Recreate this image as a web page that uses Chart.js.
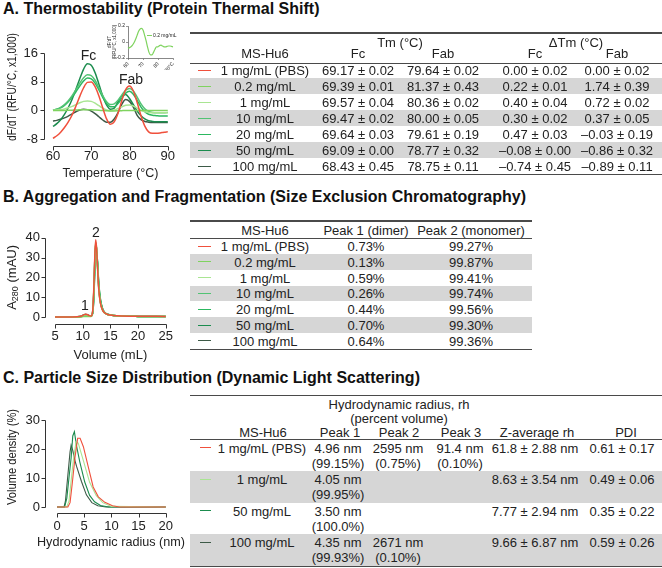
<!DOCTYPE html>
<html>
<head>
<meta charset="utf-8">
<script src="https://cdn.jsdelivr.net/npm/chart.js@4.4.1/dist/chart.umd.min.js"></script>
<style>
  html, body { margin: 0; padding: 0; background: #fff; }
  #stage { position: relative; width: 662px; height: 568px; overflow: hidden;
           font-family: 'Liberation Sans', Arial, sans-serif; color: #222; }
  canvas { position: absolute; }
  .h { position: absolute; left: 3px; font-weight: bold; font-size: 16px; line-height: 16px;
       white-space: nowrap; color: #111; }
  .t { position: absolute; transform: translate(-50%, -50%); white-space: nowrap;
       font-size: 13px; line-height: 13px; }
  .r { position: absolute; }
</style>
</head>
<body>
<div id="stage">
  <div class="h" style="top:1px">A. Thermostability (Protein Thermal Shift)</div>
  <div class="h" style="top:189px">B. Aggregation and Fragmentation (Size Exclusion Chromatography)</div>
  <div class="h" style="top:370px">C. Particle Size Distribution (Dynamic Light Scattering)</div>
  <canvas id="chartA" width="185" height="165" style="left:0;top:20px"></canvas>
  <canvas id="insetA" width="76" height="49" style="left:104px;top:21px"></canvas>
  <canvas id="chartB" width="185" height="150" style="left:0;top:215px"></canvas>
  <canvas id="chartC" width="185" height="168" style="left:0;top:385px"></canvas>
</div>
<script>
// ---- data ----
var samples = ['1 mg/mL (PBS)', '0.2 mg/mL', '1 mg/mL', '10 mg/mL', '20 mg/mL', '50 mg/mL', '100 mg/mL'];
var sampleColors = ['#f0503c', '#7fd35f', '#a9e592', '#52c374', '#2cb860', '#1b8c4e', '#3d5a47'];

// A. thermal shift, dF/dT (x1,000) vs temperature
var tempA = [60,61,62,63,64,65,66,67,68,69,70,71,72,73,74,75,76,77,78,79,80,81,82,83,84,85,86,87,88,89,90];
var dfPbs = [-7.8,-7.1,-6.1,-4.8,-3.2,-1.3,1.2,3.9,6.3,7.8,7.9,6.6,4.0,0.7,-2.4,-3.9,-3.2,-0.8,2.8,5.8,6.8,5.4,2.2,-1.5,-4.4,-6.0,-6.4,-6.4,-6.3,-6.1,-6.0];
var df02 = [-0.08,-0.07,-0.06,-0.04,-0.01,0.03,0.08,0.13,0.16,0.17,0.15,0.09,0.02,-0.06,-0.13,-0.16,-0.16,-0.13,-0.09,-0.06,-0.06,-0.045,-0.04,-0.05,-0.06,-0.06,-0.055,-0.05,-0.05,-0.055,-0.06];
var df1 = [0.0,0.1,0.2,0.4,0.7,1.1,1.6,2.1,2.5,2.6,2.5,2.0,1.3,0.6,0.1,-0.1,0.1,0.5,1.0,1.4,1.5,1.2,0.6,0.0,-0.4,-0.6,-0.7,-0.7,-0.7,-0.7,-0.7];
var df10 = [0.0,0.3,0.8,1.6,2.7,4.1,5.8,7.6,9.1,9.9,9.7,8.4,6.3,4.1,2.4,1.6,1.8,2.8,4.3,5.6,6.1,5.4,3.7,1.8,0.4,-0.3,-0.6,-0.7,-0.7,-0.7,-0.6];
var df20 = [0.0,0.3,0.7,1.4,2.4,3.7,5.2,6.8,8.2,9.0,8.8,7.6,5.7,3.6,1.9,1.0,1.0,1.9,3.4,4.8,5.3,4.5,2.8,0.9,-0.4,-1.1,-1.4,-1.5,-1.6,-1.6,-1.6];
var df50 = [-4.5,-3.7,-2.6,-1.1,0.8,3.1,5.9,8.8,11.5,13.0,12.6,10.5,7.3,4.0,1.5,0.3,0.6,2.4,4.0,4.4,3.3,1.6,-0.2,-1.5,-2.4,-2.9,-3.1,-3.2,-3.2,-3.2,-3.2];
var df100 = [-3.0,-2.8,-2.5,-2.1,-1.6,-1.0,-0.4,0.1,0.3,0.2,-0.2,-0.9,-1.8,-2.7,-3.3,-3.3,-2.4,-0.6,1.7,3.0,2.5,0.9,-1.4,-2.6,-3.1,-3.3,-3.4,-3.4,-3.4,-3.4,-3.4];
var tempTicksA = [60, 70, 80, 90];
var dfTicksA = [-8, 0, 8, 16];
var insetTicksY = [-0.2, 0, 0.2];

var tmFc   = ['69.17 ± 0.02', '69.39 ± 0.01', '69.57 ± 0.04', '69.47 ± 0.02', '69.64 ± 0.03', '69.09 ± 0.00', '68.43 ± 0.45'];
var tmFab  = ['79.64 ± 0.02', '81.37 ± 0.43', '80.36 ± 0.02', '80.00 ± 0.05', '79.61 ± 0.19', '78.77 ± 0.32', '78.75 ± 0.11'];
var dTmFc  = ['0.00 ± 0.02', '0.22 ± 0.01', '0.40 ± 0.04', '0.30 ± 0.02', '0.47 ± 0.03', '–0.08 ± 0.00', '–0.74 ± 0.45'];
var dTmFab = ['0.00 ± 0.02', '1.74 ± 0.39', '0.72 ± 0.02', '0.37 ± 0.05', '–0.03 ± 0.19', '–0.86 ± 0.32', '–0.89 ± 0.11'];

// B. SEC, A280 (mAU) vs volume
var volB = [5,7,9,9.8,10.2,10.5,10.8,11.2,11.5,11.8,12.0,12.2,12.35,12.5,12.7,12.9,13.2,13.6,14.0,14.5,15.5,17,20,25];
var secPbs = [0,0,0.1,0.5,1.1,1.4,1.3,0.7,0.5,3,14,32,39,35,24,14,7,3.5,2.0,1.3,0.8,0.5,0.4,0.3];
var sec02  = [0,0,0,0.1,0.2,0.3,0.3,0.2,0.3,2.5,12,30,37.5,35,25,15,7.5,3.6,2.0,1.3,0.8,0.5,0.3,0.2];
var sec1   = [0,0,0.1,0.4,0.9,1.1,1.0,0.6,0.5,2.8,13,31,38,34,24,14,7,3.4,1.9,1.2,0.8,0.5,0.3,0.2];
var sec10  = [0,0,0,0.2,0.5,0.6,0.6,0.4,0.4,2.2,11,28,36,34.5,26,16,8,3.8,2.1,1.3,0.8,0.5,0.3,0.2];
var sec20  = [0,0,0.1,0.3,0.7,0.9,0.8,0.5,0.4,2.0,10,26,34,33,26,16.5,8.5,4,2.2,1.4,0.8,0.5,0.3,0.2];
var sec50  = [0,0,0.1,0.5,1.1,1.3,1.2,0.7,0.5,1.8,9,24,32,33,27,17,9,4.2,2.3,1.4,0.8,0.5,0.3,0.2];
var sec100 = [0,0,0.1,0.4,1.0,1.2,1.1,0.6,0.5,2.6,12.5,30,37,34.5,25,15,7.5,3.6,2.0,1.3,0.8,0.5,0.3,0.2];
var volTicksB = [5, 10, 15, 20, 25];
var aTicksB = [0, 10, 20, 30, 40];
var dimerPct = ['0.73%', '0.13%', '0.59%', '0.26%', '0.44%', '0.70%', '0.64%'];
var monomerPct = ['99.27%', '99.87%', '99.41%', '99.74%', '99.56%', '99.30%', '99.36%'];

// C. DLS, volume density (%) vs hydrodynamic radius (nm)
var dlsSamples = ['1 mg/mL (PBS)', '1 mg/mL', '50 mg/mL', '100 mg/mL'];
var dlsColors = ['#f0503c', '#a9e592', '#1b8c4e', '#3d5a47'];
var rPbs = [0,2.0,2.4,2.8,3.3,3.8,4.25,4.85,5.75,6.65,7.6,8.8,10.2,11.5,20];
var vPbs = [0,0,1.5,8,17,23.7,23.7,20.8,13.8,6.9,3.5,1.6,0.4,0,0];
var r1 = [0,1.8,2.2,2.6,3.0,3.5,3.9,4.85,6.0,7.2,8.4,10,20];
var v1 = [0,0,2,9,16,22.5,22,16,8.5,4,1.5,0.2,0];
var r50 = [0,1.4,1.8,2.2,2.6,2.9,3.2,3.6,4.2,5.1,6.0,6.9,8.0,9.5,20];
var v50 = [0,0,3,10,17,24.5,26,21,15.5,8.6,4,1.8,0.5,0,0];
var r100 = [0,1.3,1.55,1.8,2.1,2.4,2.6,2.9,3.3,3.6,4.5,5.4,6.4,7.5,9,20];
var v100 = [0,0,2,7,13,19,21.3,19.5,16,14,8.8,4.2,1.5,0.4,0,0];
var rTicksC = [0, 5, 10, 15, 20];
var vTicksC = [0, 10, 20, 30];
var peak1R = ['4.96 nm', '4.05 nm', '3.50 nm', '4.35 nm'];
var peak1V = ['(99.15%)', '(99.95%)', '(100.0%)', '(99.93%)'];
var peak2R = ['2595 nm', '', '', '2671 nm'];
var peak2V = ['(0.75%)', '', '', '(0.10%)'];
var peak3R = ['91.4 nm', '', '', ''];
var peak3V = ['(0.10%)', '', '', ''];
var zAvg = ['61.8 ± 2.88 nm', '8.63 ± 3.54 nm', '7.77 ± 2.94 nm', '9.66 ± 6.87 nm'];
var pdi = ['0.61 ± 0.17', '0.49 ± 0.06', '0.35 ± 0.22', '0.59 ± 0.26'];

// ---- chart helpers ----
Chart.defaults.font.family = "'Liberation Sans', Arial, sans-serif";
Chart.defaults.font.size = 13;
Chart.defaults.color = '#222';
var FONT = "'Liberation Sans', Arial, sans-serif";

// Prism-style axes drawn a few pixels away from the plot area
var detachedAxes = {
  id: 'detachedAxes',
  afterDraw: function (chart, args, opts) {
    var ctx = chart.ctx, area = chart.chartArea, xs = chart.scales.x, ys = chart.scales.y;
    ctx.save();
    ctx.strokeStyle = '#333';
    ctx.lineWidth = 1;
    ctx.beginPath();
    var ax = Math.round(area.left - opts.gapLeft) + 0.5;
    var yp = ys.ticks.map(function (t) { return Math.round(ys.getPixelForValue(t.value)) + 0.5; });
    ctx.moveTo(ax, Math.min.apply(null, yp));
    ctx.lineTo(ax, Math.max.apply(null, yp));
    yp.forEach(function (p) { ctx.moveTo(ax - 4, p); ctx.lineTo(ax, p); });
    var ay = Math.round(area.bottom + opts.gapBottom) + 0.5;
    var xp = xs.ticks.map(function (t) { return Math.round(xs.getPixelForValue(t.value)) + 0.5; });
    ctx.moveTo(Math.min.apply(null, xp), ay);
    ctx.lineTo(Math.max.apply(null, xp), ay);
    xp.forEach(function (p) { ctx.moveTo(p, ay); ctx.lineTo(p, ay + 4); });
    ctx.stroke();
    ctx.restore();
  }
};

// text labels placed at data coordinates (peak names)
var peakLabels = {
  id: 'peakLabels',
  afterDatasetsDraw: function (chart, args, opts) {
    if (!opts.items) return;
    var ctx = chart.ctx;
    ctx.save();
    ctx.font = '14px ' + FONT;
    ctx.fillStyle = '#222';
    ctx.textAlign = 'center';
    ctx.textBaseline = 'middle';
    opts.items.forEach(function (it) {
      ctx.fillText(it.text, chart.scales.x.getPixelForValue(it.x), chart.scales.y.getPixelForValue(it.y));
    });
    ctx.restore();
  }
};

// axis titles that may run past the plot area (optional subscript parts, optional squeeze)
var axisTitles = {
  id: 'axisTitles',
  afterDraw: function (chart, args, opts) {
    if (!opts.items) return;
    var ctx = chart.ctx, area = chart.chartArea;
    opts.items.forEach(function (it) {
      ctx.save();
      if (it.axis === 'y') {
        ctx.translate(it.at, it.center != null ? it.center : (area.top + area.bottom) / 2);
        ctx.rotate(-Math.PI / 2);
      } else {
        ctx.translate(it.center != null ? it.center : (area.left + area.right) / 2, it.at);
      }
      ctx.fillStyle = '#222';
      ctx.textBaseline = 'middle';
      var size = it.size || 13;
      var fonts = it.parts.map(function (p) { return (p.sub ? Math.round(size * 0.7) : size) + 'px ' + FONT; });
      var total = 0;
      var widths = it.parts.map(function (p, i) {
        ctx.font = fonts[i];
        var w = ctx.measureText(p.text).width;
        total += w;
        return w;
      });
      if (it.maxWidth && total > it.maxWidth) ctx.scale(it.maxWidth / total, 1);
      var x = -total / 2;
      it.parts.forEach(function (p, i) {
        ctx.font = fonts[i];
        ctx.fillText(p.text, x, p.sub ? size * 0.27 : 0);
        x += widths[i];
      });
      ctx.restore();
    });
  }
};

function fixedTicks(list) {
  return function (s) { s.ticks = list.map(function (v) { return { value: v }; }); };
}

function line(label, data, color, width, smooth) {
  return {
    label: label, data: data, borderColor: color, borderWidth: width,
    pointRadius: 0, fill: false, clip: false,
    cubicInterpolationMode: smooth ? 'monotone' : 'default', tension: 0
  };
}

function xyPairs(xs, ys) {
  return xs.map(function (x, i) { return { x: x, y: ys[i] }; });
}

function baseOptions(layoutPad, x, y, pluginOpts) {
  var plugins = { legend: { display: false }, tooltip: { enabled: false } };
  for (var k in pluginOpts) plugins[k] = pluginOpts[k];
  return {
    responsive: false, animation: false, events: [],
    layout: { padding: layoutPad },
    scales: { x: x, y: y },
    plugins: plugins
  };
}

// ---- chart A ----
var seriesA = [dfPbs, df02, df1, df10, df20, df50, df100];
new Chart(document.getElementById('chartA'), {
  type: 'line',
  data: {
    labels: tempA,
    datasets: seriesA.map(function (d, i) { return line(samples[i], d, sampleColors[i], 1.5, true); })
  },
  options: baseOptions({ top: 33, right: 12, bottom: 0, left: 0 }, {
    type: 'linear', min: 60, max: 90,
    afterBuildTicks: fixedTicks(tempTicksA),
    afterFit: function (s) { s.height = 46; },
    grid: { display: false, drawTicks: false }, border: { display: false },
    ticks: { padding: 10 }
  }, {
    type: 'linear', min: -8, max: 16,
    afterBuildTicks: fixedTicks(dfTicksA),
    afterFit: function (s) { s.width = 53; },
    grid: { display: false, drawTicks: false }, border: { display: false },
    ticks: { padding: 15 }
  }, {
    detachedAxes: { gapLeft: 9, gapBottom: 7 },
    peakLabels: { items: [{ text: 'Fc', x: 69.3, y: 15.2 }, { text: 'Fab', x: 80.4, y: 8.4 }] },
    axisTitles: { items: [
      { axis: 'y', at: 12.5, center: 67, maxWidth: 108, parts: [{ text: 'dF/dT (RFU/°C, x1,000)' }] },
      { axis: 'x', at: 154, size: 12.5, parts: [{ text: 'Temperature (°C)' }] }
    ] }
  }),
  plugins: [detachedAxes, peakLabels, axisTitles]
});

// inset: 0.2 mg/mL on its own scale
new Chart(document.getElementById('insetA'), {
  type: 'line',
  data: { labels: tempA, datasets: [line(samples[1], df02, sampleColors[1], 1.2, true)] },
  options: baseOptions({ top: 5, right: 7, bottom: 0, left: 0 }, {
    type: 'linear', min: 60, max: 90,
    afterBuildTicks: fixedTicks(tempTicksA),
    afterFit: function (s) { s.height = 12; },
    grid: { drawOnChartArea: false, tickLength: 2, color: '#555', lineWidth: 0.6 },
    border: { display: true, color: '#555', width: 0.7 },
    ticks: { padding: 1, font: { size: 5 }, callback: function (v) { return v === 90 ? '90°C' : v; } }
  }, {
    type: 'linear', min: -0.2, max: 0.2,
    afterBuildTicks: fixedTicks(insetTicksY),
    afterFit: function (s) { s.width = 24; },
    grid: { drawOnChartArea: false, tickLength: 2, color: '#555', lineWidth: 0.6 },
    border: { display: true, color: '#555', width: 0.7 },
    ticks: { padding: 1, font: { size: 5 } },
    title: { display: true, text: ['dF/dT', '(RFU/°C, x1,000)'], font: { size: 4.5 }, padding: { top: 3, bottom: 0 } }
  }, {})
});

// ---- chart B ----
var seriesB = [secPbs, sec02, sec1, sec10, sec20, sec50, sec100];
new Chart(document.getElementById('chartB'), {
  type: 'line',
  data: {
    labels: volB,
    datasets: seriesB.map(function (d, i) { return line(samples[i], d, sampleColors[i], 1.5, true); })
  },
  options: baseOptions({ top: 17, right: 12, bottom: 0, left: 0 }, {
    type: 'linear', min: 5, max: 25,
    afterBuildTicks: fixedTicks(volTicksB),
    afterFit: function (s) { s.height = 48; },
    grid: { display: false, drawTicks: false }, border: { display: false },
    ticks: { padding: 12 }
  }, {
    type: 'linear', min: 0, max: 40,
    afterBuildTicks: fixedTicks(aTicksB),
    afterFit: function (s) { s.width = 55; },
    grid: { display: false, drawTicks: false }, border: { display: false },
    ticks: { padding: 15 }
  }, {
    detachedAxes: { gapLeft: 10, gapBottom: 7 },
    peakLabels: { items: [{ text: '1', x: 10.4, y: 5.5 }, { text: '2', x: 12.4, y: 42.5 }] },
    axisTitles: { items: [
      { axis: 'y', at: 12.5, parts: [{ text: 'A' }, { text: '280', sub: true }, { text: ' (mAU)' }] },
      { axis: 'x', at: 140, size: 13, parts: [{ text: 'Volume (mL)' }] }
    ] }
  }),
  plugins: [detachedAxes, peakLabels, axisTitles]
});

// ---- chart C ----
var seriesC = [[rPbs, vPbs], [r1, v1], [r50, v50], [r100, v100]];
new Chart(document.getElementById('chartC'), {
  type: 'line',
  data: {
    datasets: seriesC.map(function (s, i) { return line(dlsSamples[i], xyPairs(s[0], s[1]), dlsColors[i], 1.1, false); })
  },
  options: baseOptions({ top: 35, right: 18, bottom: 0, left: 0 }, {
    type: 'linear', min: 0, max: 20,
    afterBuildTicks: fixedTicks(rTicksC),
    afterFit: function (s) { s.height = 46; },
    grid: { display: false, drawTicks: false }, border: { display: false },
    ticks: { padding: 12 }
  }, {
    type: 'linear', min: 0, max: 30,
    afterBuildTicks: fixedTicks(vTicksC),
    afterFit: function (s) { s.width = 57; },
    grid: { display: false, drawTicks: false }, border: { display: false },
    ticks: { padding: 17 }
  }, {
    detachedAxes: { gapLeft: 12, gapBottom: 6 },
    axisTitles: { items: [
      { axis: 'y', at: 12.5, center: 72, maxWidth: 96, parts: [{ text: 'Volume density (%)' }] },
      { axis: 'x', at: 157, center: 111, maxWidth: 148, parts: [{ text: 'Hydrodynamic radius (nm)' }] }
    ] }
  }),
  plugins: [detachedAxes, axisTitles]
});

// ---- tables ----
var stage = document.getElementById('stage');
function rect(x, y, w, h, color) {
  var d = document.createElement('div');
  d.className = 'r';
  d.style.cssText = 'left:' + x + 'px;top:' + y + 'px;width:' + w + 'px;height:' + h + 'px;background:' + color;
  stage.appendChild(d);
}
function text(s, cx, cy) {
  if (!s) return;
  var d = document.createElement('div');
  d.className = 't';
  d.textContent = s;
  d.style.left = cx + 'px';
  d.style.top = cy + 'px';
  stage.appendChild(d);
}
var band = '#d6d6d6', rule = '#4a4a4a';

// inset legend
rect(147, 34.5, 5, 1, sampleColors[1]);
var lg = document.createElement('div');
lg.style.cssText = 'position:absolute;left:153px;top:32px;font-size:5px;line-height:6px;white-space:nowrap;';
lg.textContent = samples[1];
stage.appendChild(lg);

// table A
samples.forEach(function (s, i) { if (i % 2) rect(190, 62 + 16 * i, 472, 16, band); });
rect(190, 32, 472, 1.5, rule);
rect(190, 63, 472, 1, rule);
rect(190, 173.5, 472, 1.5, rule);
text('Tm (°C)', 400, 42);
text('ΔTm (°C)', 576, 42);
text('MS-Hu6', 265, 53); text('Fc', 358, 53); text('Fab', 443, 53); text('Fc', 535, 53); text('Fab', 617, 53);
samples.forEach(function (s, i) {
  var cy = 70 + 16 * i;
  rect(198, cy - 0.5, 13, 1.2, sampleColors[i]);
  text(s, 265, cy); text(tmFc[i], 358, cy); text(tmFab[i], 443, cy);
  text(dTmFc[i], 535, cy); text(dTmFab[i], 617, cy);
});

// table B
samples.forEach(function (s, i) { if (i % 2) rect(190, 238.1 + 15.8 * i, 342, 15.8, band); });
rect(190, 220, 342, 1.5, rule);
rect(190, 237.5, 342, 1, rule);
rect(190, 348.5, 342, 1.5, rule);
text('MS-Hu6', 265, 230); text('Peak 1 (dimer)', 366, 230); text('Peak 2 (monomer)', 471, 230);
samples.forEach(function (s, i) {
  var cy = 246 + 15.8 * i;
  rect(198, cy - 0.5, 13, 1.2, sampleColors[i]);
  text(s, 265, cy); text(dimerPct[i], 366, cy); text(monomerPct[i], 471, cy);
});

// table C
dlsSamples.forEach(function (s, i) { if (i % 2) rect(190, 439.5 + 31.5 * i, 472, 31.5, band); });
rect(190, 394.5, 472, 1.5, rule);
rect(190, 439, 472, 1, rule);
rect(190, 565.5, 472, 1.5, rule);
text('Hydrodynamic radius, rh', 399, 403.5);
text('(percent volume)', 399, 417.5);
text('MS-Hu6', 263, 432); text('Peak 1', 340, 432); text('Peak 2', 399, 432); text('Peak 3', 461, 432);
text('Z-average rh', 537, 432); text('PDI', 626, 432);
dlsSamples.forEach(function (s, i) {
  var top = 439.5 + 31.5 * i, c1 = top + 8, c2 = top + 23;
  rect(200, c1 - 0.5, 11, 1.2, dlsColors[i]);
  text(s, 262, c1);
  text(peak1R[i], 338, c1); text(peak1V[i], 338, c2);
  text(peak2R[i], 398, c1); text(peak2V[i], 398, c2);
  text(peak3R[i], 460, c1); text(peak3V[i], 460, c2);
  text(zAvg[i], 535, c1); text(pdi[i], 622, c1);
});
</script>
</body>
</html>
